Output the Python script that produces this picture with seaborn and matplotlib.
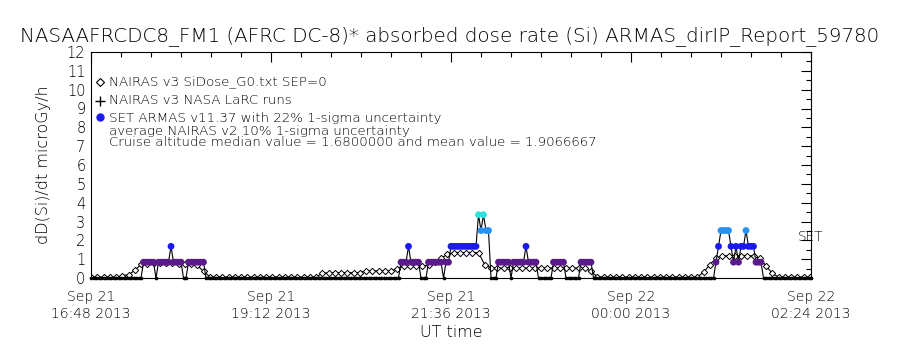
import numpy as np
import pandas as pd
import matplotlib
matplotlib.use("Agg")
import matplotlib.pyplot as plt
import matplotlib.transforms as mtransforms
from matplotlib.ticker import FixedLocator, MultipleLocator
import seaborn as sns

# ---- data -------------------------------------------------------------
title = "NASAAFRCDC8_FM1 (AFRC DC-8)* absorbed dose rate (Si) ARMAS_dirIP_Report_59780"
y_label = "dD(Si)/dt microGy/h"
x_label = "UT time"

# x axis: minutes after Sep 21 16:48 UT
tick_minutes = [0, 144, 288, 432, 576]
tick_labels = ["Sep 21\n16:48 2013", "Sep 21\n19:12 2013", "Sep 21\n21:36 2013",
               "Sep 22\n00:00 2013", "Sep 22\n02:24 2013"]

# NAIRAS v3 SiDose model, one value every 5 minutes (microGy/h)
nairas_step = 5
nairas_dose = [
    0.05, 0.05, 0.05, 0.05, 0.05, 0.12, 0.18, 0.40, 0.72, 0.76,
    0.78, 0.78, 0.78, 0.77, 0.76, 0.75, 0.74, 0.68, 0.35, 0.07,
    0.05, 0.05, 0.05, 0.05, 0.05, 0.05, 0.05, 0.05, 0.05, 0.05,
    0.05, 0.05, 0.05, 0.05, 0.05, 0.05, 0.06, 0.25, 0.28, 0.28,
    0.28, 0.28, 0.28, 0.28, 0.38, 0.38, 0.38, 0.38, 0.38, 0.50,
    0.62, 0.62, 0.62, 0.62, 0.70, 0.85, 1.05, 1.25, 1.35, 1.35,
    1.35, 1.35, 1.35, 0.70, 0.53, 0.53, 0.53, 0.53, 0.53, 0.53,
    0.53, 0.53, 0.53, 0.53, 0.53, 0.53, 0.53, 0.53, 0.53, 0.53,
    0.35, 0.07, 0.05, 0.05, 0.05, 0.05, 0.05, 0.05, 0.05, 0.05,
    0.05, 0.05, 0.05, 0.05, 0.05, 0.05, 0.05, 0.05, 0.30, 0.70,
    1.05, 1.18, 1.18, 1.18, 1.18, 1.18, 1.18, 1.05, 0.65, 0.25,
    0.05, 0.05, 0.05, 0.05, 0.05, 0.05,
]

# SET ARMAS measured dose rate, one value every 2 minutes (microGy/h)
set_step = 2
set_dose = [
    0, 0, 0, 0, 0, 0, 0, 0, 0, 0, 0, 0, 0, 0, 0, 0, 0, 0, 0, 0, 0, 0.84, 0.84, 0.84,
    0.84, 0.84, 0, 0.84, 0.84, 0.84, 0.84, 0.84, 1.68, 0.84, 0.84, 0.84, 0.84, 0, 0, 0.84, 0.84, 0.84, 0.84, 0.84, 0.84, 0.84, 0, 0,
    0, 0, 0, 0, 0, 0, 0, 0, 0, 0, 0, 0, 0, 0, 0, 0, 0, 0, 0, 0, 0, 0, 0, 0,
    0, 0, 0, 0, 0, 0, 0, 0, 0, 0, 0, 0, 0, 0, 0, 0, 0, 0, 0, 0, 0, 0, 0, 0,
    0, 0, 0, 0, 0, 0, 0, 0, 0, 0, 0, 0, 0, 0, 0, 0, 0, 0, 0, 0, 0, 0, 0, 0,
    0, 0, 0, 0, 0.84, 0.84, 0.84, 1.68, 0.84, 0.84, 0.84, 0.84, 0, 0, 0, 0.84, 0.84, 0.84, 0.84, 0.84, 0.84, 0, 0.84, 0.84,
    1.68, 1.68, 1.68, 1.68, 1.68, 1.68, 1.68, 1.68, 1.68, 1.68, 1.68, 3.36, 2.52, 3.36, 2.52, 2.52, 0, 0, 0, 0.84, 0.84, 0.84, 0.84, 0.84,
    0, 0.84, 0.84, 0.84, 0.84, 0.84, 1.68, 0.84, 0.84, 0.84, 0.84, 0, 0, 0, 0, 0, 0, 0.84, 0.84, 0.84, 0.84, 0.84, 0, 0,
    0, 0, 0, 0, 0.84, 0.84, 0.84, 0.84, 0.84, 0, 0, 0, 0, 0, 0, 0, 0, 0, 0, 0, 0, 0, 0, 0,
    0, 0, 0, 0, 0, 0, 0, 0, 0, 0, 0, 0, 0, 0, 0, 0, 0, 0, 0, 0, 0, 0, 0, 0,
    0, 0, 0, 0, 0, 0, 0, 0, 0, 0, 0.84, 1.68, 2.52, 2.52, 2.52, 2.52, 1.68, 0.84, 1.68, 0.84, 1.68, 1.68, 2.52, 1.68,
    1.68, 1.68, 0.84, 0.84, 0.84, 0, 0, 0, 0, 0, 0, 0, 0, 0, 0, 0, 0, 0, 0, 0, 0, 0, 0, 0,
    0,
]

# dose levels of the SET instrument and the colours used for them
set_levels = [0.84, 1.68, 2.52, 3.36]
set_colors = ["#5a1a8c", "#1a1af0", "#2890f0", "#30e0dc"]

legend_lines = [
    "NAIRAS v3 SiDose_G0.txt SEP=0",
    "NAIRAS v3 NASA LaRC runs",
    "SET ARMAS v11.37 with 22% 1-sigma uncertainty",
    "average NAIRAS v2 10% 1-sigma uncertainty",
    "Cruise altitude median value = 1.6800000 and mean value = 1.9066667",
]
set_tag = "SET"

# ---- frames -----------------------------------------------------------
nairas = pd.DataFrame({"minute": np.arange(len(nairas_dose)) * nairas_step,
                       "dose": nairas_dose})
armas = pd.DataFrame({"minute": np.arange(len(set_dose)) * set_step,
                      "dose": set_dose})
armas_zero = armas[armas["dose"] == 0]
armas_hit = armas[armas["dose"] > 0]

# ---- style ------------------------------------------------------------
sns.set_style("white")
plt.rcParams.update({
    "font.family": ["DejaVu Sans"],
    "font.weight": "light",
    "axes.labelweight": "light",
    "text.color": "black",
    "axes.labelcolor": "black",
    "xtick.color": "black",
    "ytick.color": "black",
    "axes.edgecolor": "black",
    "axes.linewidth": 0.8,
})

fig = plt.figure(figsize=(9, 3.5), dpi=100)
ax = fig.add_axes([91 / 900, 72 / 350, 720 / 900, 226 / 350])

# model curve: open diamonds joined by a line
sns.lineplot(data=nairas, x="minute", y="dose", ax=ax, color="black",
             linewidth=0.8, marker="D", markersize=3.2,
             markerfacecolor="white", markeredgecolor="black",
             markeredgewidth=0.7, zorder=2)

# measurement trace and its samples
sns.lineplot(data=armas, x="minute", y="dose", ax=ax, color="black",
             linewidth=0.8, zorder=3)
sns.scatterplot(data=armas_zero, x="minute", y="dose", ax=ax, color="black",
                s=7, linewidth=0, zorder=3, legend=False, clip_on=False)
sns.scatterplot(data=armas_hit, x="minute", y="dose", hue="dose", ax=ax,
                palette=dict(zip(set_levels, set_colors)), s=24, linewidth=0,
                zorder=4, legend=False)

# ---- axes -------------------------------------------------------------
ax.set_xlim(tick_minutes[0], tick_minutes[-1])
ax.set_ylim(0, 12)
ax.xaxis.set_major_locator(FixedLocator(tick_minutes))
ax.set_xticklabels(tick_labels)
ax.xaxis.set_minor_locator(MultipleLocator(24))
ax.yaxis.set_major_locator(MultipleLocator(1))
ax.yaxis.set_minor_locator(MultipleLocator(0.5))
ax.tick_params(which="both", direction="in", top=True, right=True,
               width=0.8, color="black")
ax.tick_params(which="major", length=7.5)
ax.tick_params(which="minor", length=3.8)
ax.tick_params(axis="x", which="major", pad=9, labelsize=10)
ax.tick_params(axis="y", which="major", pad=4, labelsize=10.5)

ax.set_xlabel(x_label, fontsize=11.5)
ax.xaxis.set_label_coords(0.5, -0.21)
ax.set_ylabel(y_label, fontsize=11.5)
ax.yaxis.set_label_coords(-0.055, 0.5)

fig.text(0.5, 1 - 36 / 350, title, ha="center", va="center", fontsize=14.3)

# ---- key --------------------------------------------------------------
key = mtransforms.blended_transform_factory(ax.transAxes, ax.transData)
text_y = [10.45, 9.45, 8.5, 7.82, 7.2]
for line, yy in zip(legend_lines, text_y):
    ax.text(0.025, yy, line, transform=key, ha="left", va="center",
            fontsize=9.6)
ax.plot([0.0125], [10.4], transform=key, marker="D", ms=4, mfc="white",
        mec="black", mew=0.8, ls="none", clip_on=False)
ax.plot([0.0125], [9.4], transform=key, marker="+", ms=7, mec="black",
        mew=1.0, ls="none", clip_on=False)
ax.plot([0.0125], [8.55], transform=key, marker="o", ms=5, mfc=set_colors[1],
        mec=set_colors[1], ls="none", clip_on=False)

ax.text(565, 2.2, set_tag, ha="left", va="center", fontsize=9.8)

fig.savefig("out.png", dpi=100)
